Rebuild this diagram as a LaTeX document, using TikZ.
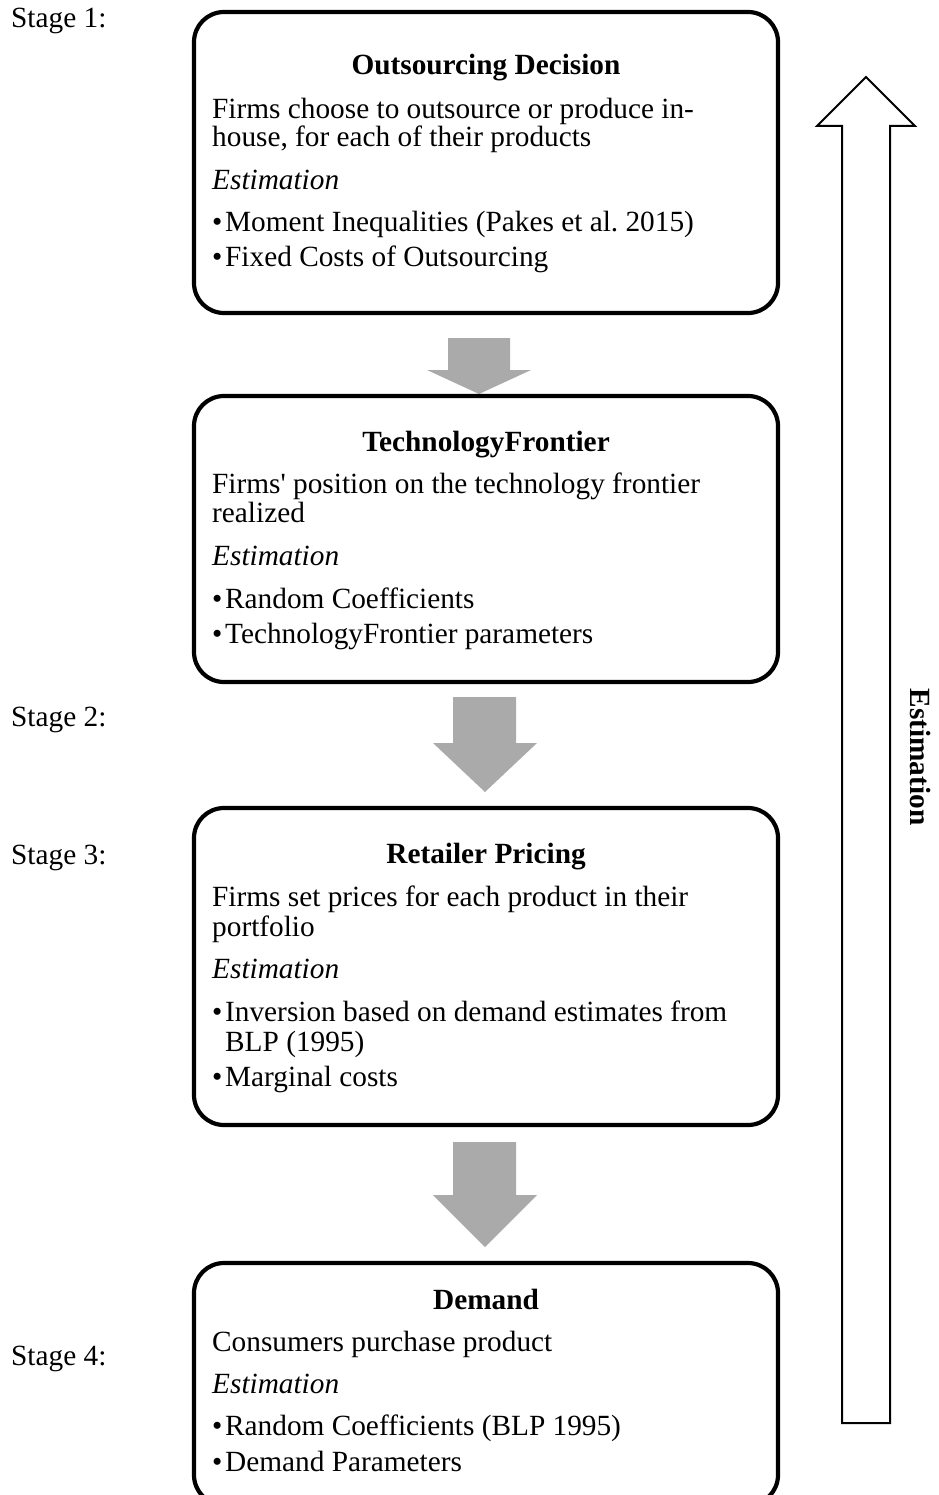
\documentclass[tikz,border=0pt]{standalone}
\usepackage{fontspec}
\setmainfont{Liberation Serif}[Ligatures=TeXOff]
\definecolor{arrowgray}{RGB}{170,170,170}
\newcommand{\bul}{\makebox[13pt][l]{•}}
\begin{document}
\begin{tikzpicture}[x=1pt,y=-1pt,
  stagebox/.style={draw=black, line width=4.2pt, rounded corners=30pt, inner sep=0pt, fill=white},
  txt/.style={anchor=base west, inner sep=0pt, font=\fontsize{29.3}{32}\selectfont},
  ttl/.style={anchor=base, inner sep=0pt, font=\fontsize{29.3}{32}\selectfont\bfseries},
  flowarrow/.style={fill=arrowgray, draw=none},
  estarrow/.style={draw=black, line width=2pt, line join=miter, fill=white}]
\useasboundingbox (0,0) rectangle (938,1495);
\clip (0,0) rectangle (938,1495);

% gray flow arrows
\fill[flowarrow] (448,338) -- (510,338) -- (510,370) -- (531,370) -- (479,394) -- (427,370) -- (448,370) -- cycle;
\fill[flowarrow] (453,697) -- (516,697) -- (516,743) -- (537,743) -- (485,792) -- (433,743) -- (453,743) -- cycle;
\fill[flowarrow] (453,1142) -- (516,1142) -- (516,1195) -- (537,1195) -- (485,1247) -- (433,1195) -- (453,1195) -- cycle;

% boxes
\node[stagebox, minimum width=584pt, minimum height=301pt] (b1) at (486,162.5) {};
\node[stagebox, minimum width=584pt, minimum height=286pt] (b2) at (486,539) {};
\node[stagebox, minimum width=584pt, minimum height=317pt] (b3) at (486,966.5) {};
\node[stagebox, minimum width=584pt, minimum height=242pt] (b4) at (486,1384) {};

% box 1
\node[ttl] (t1) at (486,75) {Outsourcing Decision};
\node[txt] (t1a) at (212,119) {Firms choose to outsource or produce in-};
\node[txt] (t1b) at (212,147) {house, for each of their products};
\node[txt] (t1c) at (212,190) {\itshape Estimation};
\node[txt] (t1d) at (212,232) {\bul Moment Inequalities (Pakes et al.\ 2015)};
\node[txt] (t1e) at (212,267) {\bul Fixed Costs of Outsourcing};

% box 2
\node[ttl] (t2) at (486,451) {TechnologyFrontier};
\node[txt] (t2a) at (212,493) {Firms' position on the technology frontier};
\node[txt] (t2b) at (212,522) {realized};
\node[txt] (t2c) at (212,565) {\itshape Estimation};
\node[txt] (t2d) at (212,608) {\bul Random Coefficients};
\node[txt] (t2e) at (212,643) {\bul TechnologyFrontier parameters};

% box 3
\node[ttl] (t3) at (486,863) {Retailer Pricing};
\node[txt] (t3a) at (212,906) {Firms set prices for each product in their};
\node[txt] (t3b) at (212,936) {portfolio};
\node[txt] (t3c) at (212,978) {\itshape Estimation};
\node[txt] (t3d) at (212,1021) {\bul Inversion based on demand estimates from};
\node[txt] (t3e) at (225,1051) {BLP (1995)};
\node[txt] (t3f) at (212,1086) {\bul Marginal costs};

% box 4
\node[ttl] (t4) at (486,1309) {Demand};
\node[txt] (t4a) at (212,1351) {Consumers purchase product};
\node[txt] (t4b) at (212,1393) {\itshape Estimation};
\node[txt] (t4c) at (212,1435) {\bul Random Coefficients (BLP 1995)};
\node[txt] (t4d) at (212,1471) {\bul Demand Parameters};

% stage labels
\node[txt] (s1) at (11,28) {Stage 1:};
\node[txt] (s2) at (11,726) {Stage 2:};
\node[txt] (s3) at (11,864) {Stage 3:};
\node[txt] (s4) at (11,1365) {Stage 4:};

% estimation arrow
\draw[estarrow] (842,1423) -- (842,126) -- (817,126) -- (866,77) -- (915,126) -- (890,126) -- (890,1423) -- cycle;
\node[rotate=-90, inner sep=0pt, font=\fontsize{29.3}{32}\selectfont\bfseries] (est) at (921,757) {Estimation};
\end{tikzpicture}
\end{document}
